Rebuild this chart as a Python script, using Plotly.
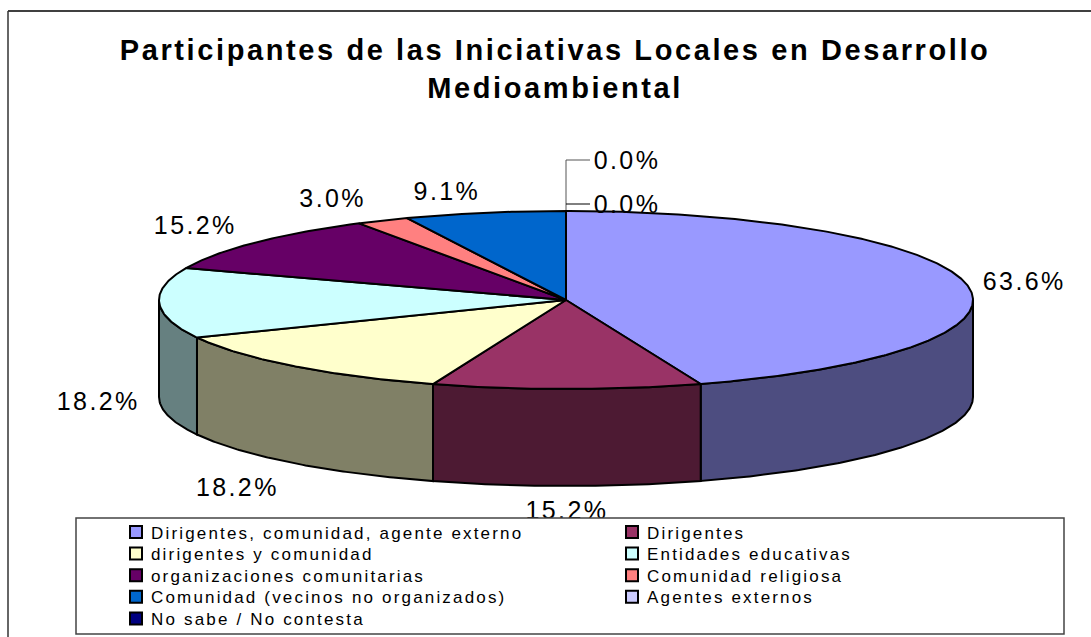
import math
import plotly.graph_objects as go

# ---- data ----
categories = ["Dirigentes, comunidad, agente externo", "Dirigentes", "dirigentes y comunidad",
              "Entidades educativas", "organizaciones comunitarias", "Comunidad religiosa",
              "Comunidad (vecinos no organizados)", "Agentes externos", "No sabe / No contesta"]
values = [63.6, 15.2, 18.2, 18.2, 15.2, 3.0, 9.1, 0.0, 0.0]
title_text = "Participantes de las Iniciativas Locales en Desarrollo<br>Medioambiental"

# ---- style ----
top_colors = ["#9999FF", "#993366", "#FFFFCC", "#CCFFFF", "#660066", "#FF8080", "#0066CC", "#CCCCFF", "#000080"]
side_colors = ["#4D4D80", "#4D1A33", "#808066", "#668080", "#330033", "#804040", "#003366", "#666680", "#000040"]
CX, CY, RX, RY, DEPTH = 566, 300, 407, 89, 97
label_offsets = [(57, -1), (0, 124), (-56, 124), (-61, 101), (-60, -15), (-50, -20), (-38, -19), (61, -48), (61, -4)]
FONT = "Liberation Sans, Arial, sans-serif"


def pt(t, dy=0):
    r = math.radians(t)
    return CX + RX * math.sin(r), CY - RY * math.cos(r) + dy


def arc(a, b):
    n = max(2, int(abs(b - a) * 2))
    return [pt(a + (b - a) * i / n) for i in range(n + 1)]


total = sum(values)
fig = go.Figure()
start = 0.0
spans = []
for v in values:
    spans.append((start, start + v / total * 360))
    start += v / total * 360

# rim (front half only)
for (a, b), c in zip(spans, side_colors):
    lo, hi = max(a, 90), min(b, 270)
    if hi <= lo:
        continue
    upper = arc(lo, hi)
    lower = [(x, y + DEPTH) for x, y in reversed(upper)]
    poly = upper + lower + [upper[0]]
    fig.add_trace(go.Scatter(x=[p[0] for p in poly], y=[p[1] for p in poly], mode="lines", fill="toself",
                             fillcolor=c, line=dict(color="black", width=2), showlegend=False, hoverinfo="skip"))

# top faces
for name, (a, b), c in zip(categories, spans, top_colors):
    if b - a <= 0:
        continue
    poly = [(CX, CY)] + arc(a, b) + [(CX, CY)]
    fig.add_trace(go.Scatter(x=[p[0] for p in poly], y=[p[1] for p in poly], mode="lines", fill="toself",
                             fillcolor=c, line=dict(color="black", width=2), showlegend=False,
                             name=name, hoverinfo="name"))

# percentage labels
lx, ly, lt = [], [], []
for v, (a, b), (dx, dy) in zip(values, spans, label_offsets):
    x, y = pt((a + b) / 2)
    lx.append(x + dx)
    ly.append(y + dy)
    lt.append(f"{v / 100:.1%}")
fig.add_trace(go.Scatter(x=lx, y=ly, text=lt, mode="text", textposition="middle center",
                         textfont=dict(family=FONT, size=25, color="black"),
                         showlegend=False, hoverinfo="skip"))

# legend entries
for name, c in zip(categories, top_colors):
    fig.add_trace(go.Scatter(x=[None], y=[None], mode="markers", name=name,
                             marker=dict(symbol="square", size=14, color=c, line=dict(color="black", width=2))))

shapes = [
    dict(type="line", xref="x", yref="y", x0=8, x1=1091, y0=11, y1=11, line=dict(color="black", width=1.5), layer="below"),
    dict(type="line", xref="x", yref="y", x0=8, x1=8, y0=11, y1=637, line=dict(color="#333333", width=1.5), layer="below"),
    dict(type="path", xref="x", yref="y", path="M566,211 L566,160 L590,160", line=dict(color="#555555", width=1), layer="below"),
    dict(type="line", xref="x", yref="y", x0=566, x1=590, y0=204, y1=204, line=dict(color="black", width=1), layer="below"),
    dict(type="rect", xref="x", yref="y", x0=76, x1=1064, y0=518, y1=634, fillcolor="white",
         line=dict(color="#444444", width=1.5), layer="above"),
]

fig.update_layout(
    width=1091, height=637, margin=dict(l=0, r=0, t=0, b=0),
    paper_bgcolor="white", plot_bgcolor="rgba(0,0,0,0)",
    xaxis=dict(range=[0, 1091], visible=False, fixedrange=True),
    yaxis=dict(range=[637, 0], visible=False, fixedrange=True),
    shapes=shapes,
    annotations=[dict(text=f"<b>{title_text}</b>", x=555, y=69, xref="x", yref="y", showarrow=False,
                      align="center", font=dict(family=FONT, size=29, color="black"))],
    legend=dict(orientation="h", x=80 / 1091, xanchor="left", y=1 - 495 / 637, yanchor="top",
                entrywidth=451, entrywidthmode="pixels", bgcolor="rgba(0,0,0,0)", borderwidth=0,
                itemsizing="constant", traceorder="normal",
                font=dict(family=FONT, size=17, color="black")),
)

post = """
document.body.style.margin='0';
function ls(){
 document.querySelectorAll('.legendtext').forEach(function(e){e.style.letterSpacing='2.17px';e.setAttribute('x',35);});
 document.querySelectorAll('.textpoint text').forEach(function(e){e.style.letterSpacing='2.4px';});
 document.querySelectorAll('.annotation-text').forEach(function(e){e.style.letterSpacing='2.6px';});
 var g=document.querySelector('.legend');
 if(g){
  g.setAttribute('transform','translate(116,514)');
  g.querySelectorAll('.traces').forEach(function(t,i){
   t.setAttribute('transform','translate('+(i%2*496)+','+(18+Math.floor(i/2)*21.6)+')');
  });
 }
}
ls();setTimeout(ls,50);setTimeout(ls,300);
"""
fig.write_html("out.html", post_script=post, config={"displayModeBar": False})
